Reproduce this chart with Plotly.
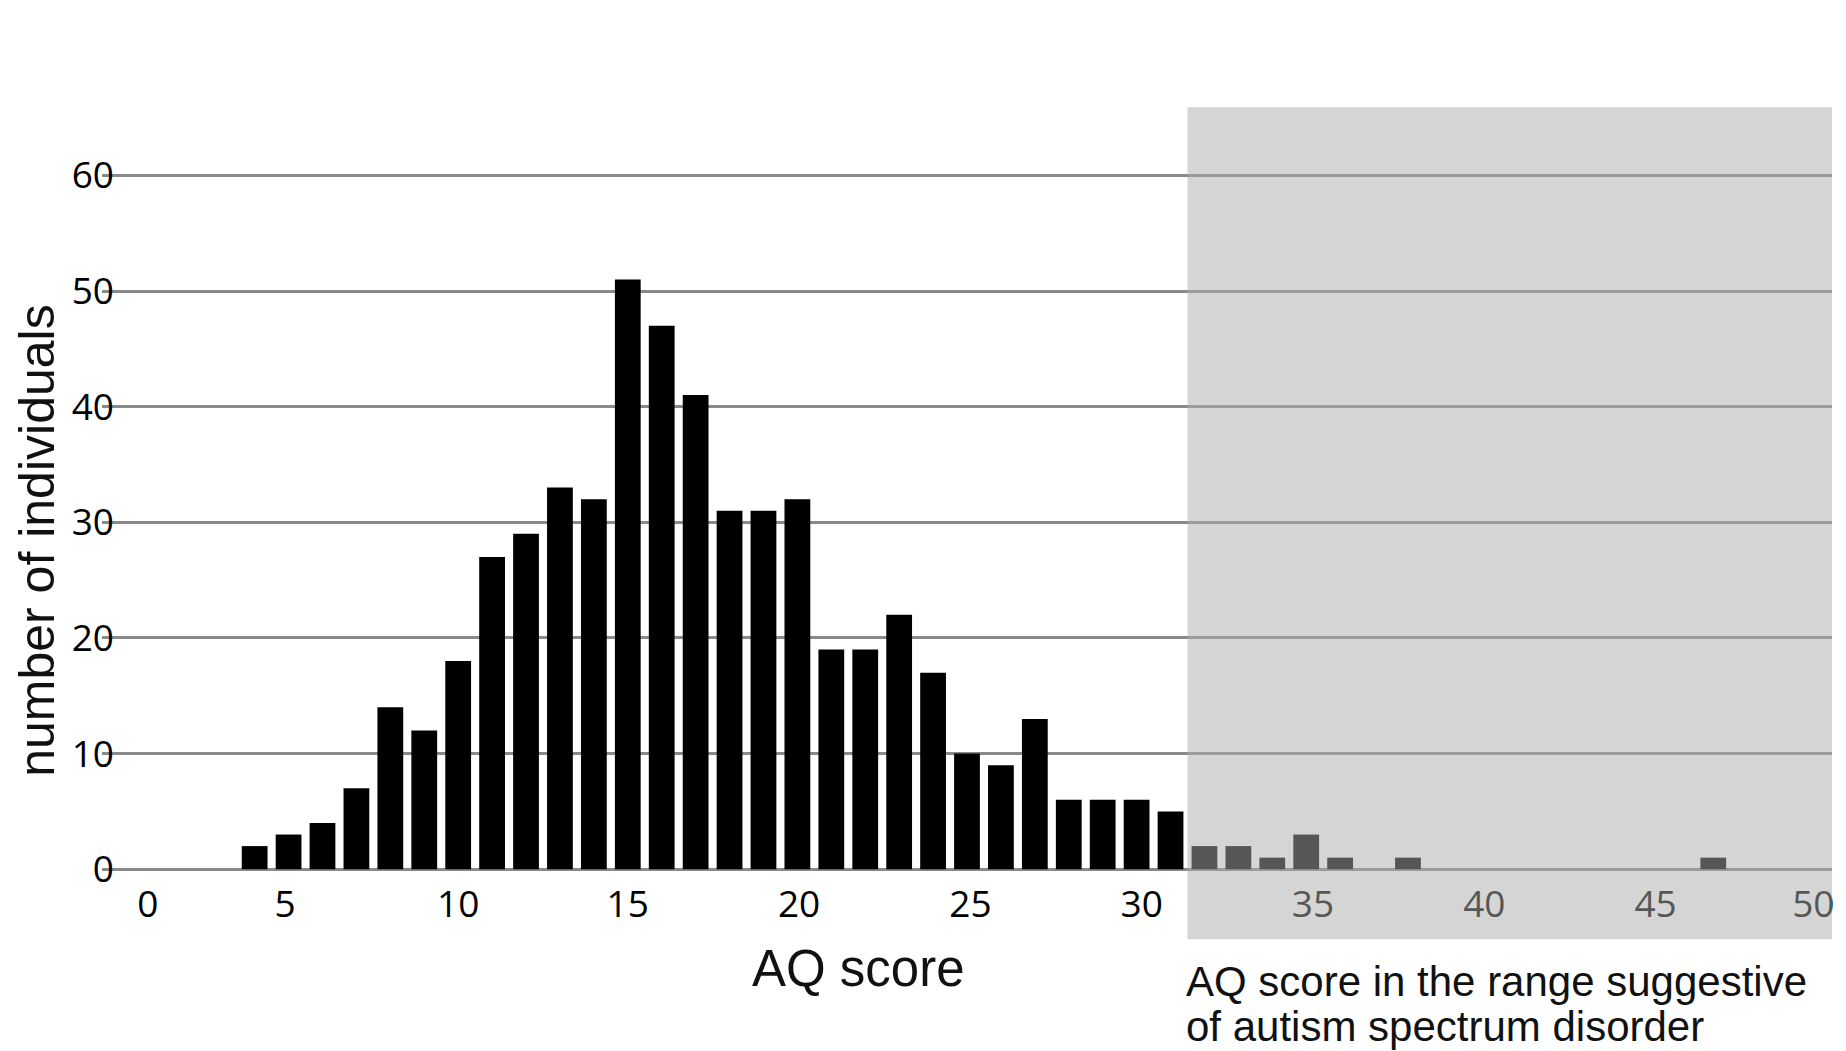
import plotly.graph_objects as go

# ---- data ----
AQ_SCORE = list(range(4, 48))
COUNTS = [2, 3, 4, 7, 14, 12, 18, 27, 29, 33, 32, 51, 47, 41, 31, 31, 32, 19, 19, 22,
          17, 10, 9, 13, 6, 6, 6, 5,
          2, 2, 1, 3, 1, 0, 1,
          0, 0, 0, 0, 0, 0, 0, 0,
          1]
# tick labels sit slightly off the bar scale in the original graphic
X_TICK_VALS = [0.85, 4.9, 10, 15, 20.05, 25.1, 30.15, 35.2, 40.25, 45.3, 49.95]
X_TICK_TEXT = ["0", "5", "10", "15", "20", "25", "30", "35", "40", "45", "50"]
Y_TICK_VALS = [0, 10, 20, 30, 40, 50, 60]
ASD_CUTOFF = 32          # first AQ score in the shaded "suggestive" range
SHADE_Y_TOP = 65.9       # shaded band extent in count units
SHADE_Y_BOTTOM = -6.06

# ---- geometry (screen pixels; page body has an 8px margin) ----
OFF = 8
SW, SH = 1846, 1051
W, H = SW - OFF, SH - OFF
X_RANGE = [-0.5, 50.5]
Y_RANGE = [-0.5, 66]
PL, PT = 101.7, 106.2          # plot area top-left on screen
PW, PH = 1730.0, 768.6         # plot area size
ML, MT = PL - OFF, PT - OFF
MR = W - ML - PW
MB = H - MT - PH


def px_x(px):
    return (px - PL) / PW


def px_y(py):
    return (PT + PH - py) / PH


def yval_paper(v):
    return (v - Y_RANGE[0]) / (Y_RANGE[1] - Y_RANGE[0])


fig = go.Figure()
fig.add_trace(go.Bar(
    x=AQ_SCORE, y=COUNTS,
    marker=dict(color="#000000", line=dict(width=0)),
    width=0.76,
    hoverinfo="x+y",
))

fig.add_shape(
    type="rect", xref="x", yref="paper",
    x0=ASD_CUTOFF - 0.5, x1=X_RANGE[1],
    y0=yval_paper(SHADE_Y_BOTTOM), y1=yval_paper(SHADE_Y_TOP),
    fillcolor="rgb(172,172,172)", opacity=0.5,
    line=dict(width=0), layer="above",
)

TXT = "Liberation Sans, Arial, sans-serif"
TICKF = "Open Sans, Liberation Sans, sans-serif"

fig.add_annotation(
    text="AQ score", xref="paper", yref="paper",
    x=px_x(858), y=px_y(939), xanchor="center", yanchor="top",
    showarrow=False, borderpad=0,
    font=dict(family=TXT, size=51, color="#111111"),
)
fig.add_annotation(
    text="number of individuals", xref="paper", yref="paper",
    x=px_x(OFF + 28.5), y=px_y(540), xanchor="center", yanchor="middle",
    textangle=-90, showarrow=False, borderpad=0,
    font=dict(family=TXT, size=50, color="#111111"),
)
fig.add_annotation(
    text="AQ score in the range suggestive", xref="paper", yref="paper",
    x=px_x(1185), y=px_y(957), xanchor="left", yanchor="top",
    showarrow=False, borderpad=0,
    font=dict(family=TXT, size=42, color="#111111"),
)
fig.add_annotation(
    text="of autism spectrum disorder", xref="paper", yref="paper",
    x=px_x(1185), y=px_y(1002), xanchor="left", yanchor="top",
    showarrow=False, borderpad=0,
    font=dict(family=TXT, size=42, color="#111111"),
)

fig.update_layout(
    width=W, height=H, autosize=False,
    margin=dict(l=ML, r=MR, t=MT, b=MB, pad=0),
    paper_bgcolor="white", plot_bgcolor="white",
    showlegend=False,
)
fig.update_xaxes(
    range=X_RANGE, tickmode="array", tickvals=X_TICK_VALS, ticktext=X_TICK_TEXT,
    showgrid=False, zeroline=False, showline=False, ticks="",
    tickfont=dict(family=TICKF, size=37, color="#000000"),
    ticklabelstandoff=4,
)
fig.update_yaxes(
    range=Y_RANGE, tickmode="array", tickvals=Y_TICK_VALS,
    showgrid=True, gridcolor="#8a8a8a", gridwidth=3,
    zeroline=False, showline=False, ticks="",
    tickfont=dict(family=TICKF, size=37, color="#000000"),
    ticklabelstandoff=-13,
)

fig.write_html("out.html")
